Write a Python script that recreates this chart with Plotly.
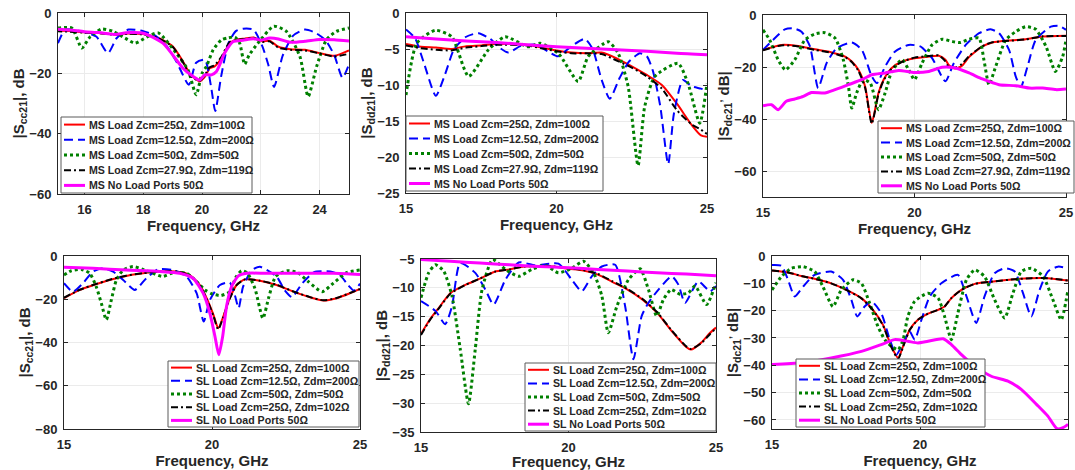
import plotly.graph_objects as go

# ---------------- DATA ----------------
series_ms = ["MS Load Zcm=25Ω, Zdm=100Ω", "MS Load Zcm=12.5Ω, Zdm=200Ω",
             "MS Load Zcm=50Ω, Zdm=50Ω", "MS Load Zcm=27.9Ω, Zdm=119Ω",
             "MS No Load Ports 50Ω"]
series_sl = ["SL Load Zcm=25Ω, Zdm=100Ω", "SL Load Zcm=12.5Ω, Zdm=200Ω",
             "SL Load Zcm=50Ω, Zdm=50Ω", "SL Load Zcm=25Ω, Zdm=102Ω",
             "SL No Load Ports 50Ω"]

# Panel 1: MS |Scc21|
p1_red_f = [15, 15.5, 16, 16.5, 17, 17.5, 18, 18.5, 19, 19.35, 19.6, 19.92, 20.1, 20.26, 20.43, 20.66, 20.94, 21.2, 21.45, 21.75, 22.05, 22.3, 22.6, 23, 23.5, 24, 24.5, 25]
p1_red_db = [-5.8, -6, -6.4, -6.6, -7, -6.8, -7, -8.2, -11, -16, -20.3, -22.7, -21.1, -18.3, -17.7, -15, -10, -8.8, -8.5, -8.1, -9.4, -9.2, -11.2, -12, -12.2, -13.3, -14.2, -12.4]
p1_blk_db = [-6, -6.2, -6.5, -6.7, -7.2, -6.9, -7.1, -8.3, -11.2, -16.3, -20.8, -22.5, -20.5, -18, -17.3, -14.5, -9.6, -8.9, -8.6, -8.2, -9.6, -9.4, -11.5, -12.2, -12.4, -13.4, -14.4, -13.5]
p1_mag_f = [15, 15.5, 16, 16.5, 17, 17.5, 18, 18.67, 19.35, 19.62, 19.92, 20.09, 20.32, 20.49, 20.77, 21.05, 21.4, 21.75, 22, 22.3, 22.6, 23, 23.5, 24, 24.5, 25]
p1_mag_db = [-5.3, -5.6, -6.2, -6.5, -7.1, -6.5, -6.7, -10, -18.3, -20.5, -22.2, -20.5, -20.5, -19.4, -13.3, -9.5, -9, -8.5, -9, -8.3, -8.6, -9.7, -9.4, -8.8, -8.9, -9.3]
p1_blu_f = [15.1, 15.35, 15.85, 16.4, 16.8, 17.1, 17.5, 18, 18.45, 18.8, 19.15, 19.55, 19.8, 20.1, 20.3, 20.45, 20.65, 20.9, 21.15, 21.4, 21.75, 22.05, 22.25, 22.45, 22.75, 23.1, 23.5, 23.85, 24.2, 24.5, 24.78, 25]
p1_blu_db = [-10, -5.5, -6, -7.8, -13.3, -8.3, -5.5, -6, -7.8, -11, -16.5, -23.8, -16.5, -15.5, -24, -32.5, -21, -10, -6, -5.2, -5.5, -11, -17, -24.5, -14, -7.5, -5.5, -6.5, -9, -14, -21.5, -17]
p1_grn_f = [15.1, 15.57, 15.91, 16.2, 16.59, 16.98, 17.38, 17.72, 18.12, 18.51, 19.12, 19.52, 19.8, 20.0, 20.15, 20.38, 20.66, 20.9, 21.12, 21.28, 21.45, 21.6, 21.9, 22.44, 22.87, 23.33, 23.61, 23.9, 24.23, 24.57, 25]
p1_grn_db = [-5, -5, -11.6, -7.8, -5.3, -6.1, -8.3, -10, -8, -6.6, -13.3, -18.8, -27.1, -20, -17.7, -12.2, -8.9, -8.2, -8, -10, -17, -14, -10, -4.4, -6.1, -14.4, -27.7, -17.7, -8.9, -6.1, -5]

# Panel 2: MS |Sdd21|
p2_red_f = [15, 15.5, 16, 16.5, 17, 17.5, 18, 19, 19.5, 20, 20.5, 21, 21.5, 22, 22.5, 23, 23.5, 24, 24.5, 24.8, 25]
p2_red_db = [-4.3, -4.7, -4.8, -5.0, -4.6, -4.5, -4.3, -4.4, -4.8, -5.2, -5.5, -5.6, -5.5, -6.3, -7.4, -8.6, -10, -12.6, -15.6, -17, -17.2]
p2_blk_db = [-4.5, -4.9, -5.1, -5.2, -4.8, -4.6, -4.4, -4.5, -4.9, -5.3, -5.6, -5.6, -5.7, -6.6, -7.6, -8.8, -10.5, -13.5, -15.5, -16.2, -16.8]
p2_mag_f = [15, 16, 17, 18, 19, 20, 21, 22, 23, 24, 25]
p2_mag_db = [-3.3, -3.6, -3.9, -4.1, -4.4, -4.7, -4.9, -5.1, -5.3, -5.6, -5.8]
p2_blu_f = [15, 15.3, 15.6, 15.99, 16.3, 16.6, 17, 17.41, 17.8, 18.1, 18.4, 18.8, 19.3, 19.7, 20.05, 20.5, 20.94, 21.2, 21.5, 21.77, 22.1, 22.4, 22.77, 23.0, 23.2, 23.45, 23.71, 23.9, 24.2, 24.5, 24.8, 25]
p2_blu_db = [-2.3, -3.5, -7, -11.5, -8.5, -5, -3.3, -2.8, -3.6, -4.8, -5.5, -4.6, -4.4, -5.3, -6, -4.6, -3.6, -5, -9.3, -11.9, -9, -6.8, -5.6, -6, -8, -13, -21, -14, -9.3, -10.2, -10.5, -10.8]
p2_grn_f = [15, 15.36, 15.97, 16.52, 17.08, 17.74, 18.29, 19.07, 19.45, 20.06, 20.72, 21.06, 21.72, 22.05, 22.38, 22.71, 22.93, 23.27, 24.04, 24.37, 24.76, 25]
p2_grn_db = [-11.4, -4.2, -2.4, -3.3, -8.8, -5.1, -3.3, -4.7, -4.2, -5.6, -9.5, -6, -4, -5.6, -10.2, -21.2, -13, -8.8, -7, -9.8, -15.3, -9.8]

# Panel 3: MS |Sdc21|
p3_red_f = [15, 15.6, 16.16, 16.71, 17.27, 17.71, 17.93, 18.15, 18.37, 18.59, 18.81, 18.98, 19.25, 19.59, 20, 20.47, 20.8, 21.02, 21.13, 21.35, 21.57, 21.8, 22.24, 22.57, 23.12, 23.67, 24.23, 25]
p3_red_db = [-13.4, -11.5, -11.9, -13.2, -14.4, -16, -17.9, -21.1, -27.5, -41.5, -30, -24.9, -20.4, -17.9, -16.6, -16, -15.7, -17.2, -19.2, -20.6, -19.5, -16.2, -12.1, -10.6, -9.8, -9.3, -8.3, -8]
p3_blk_db = [-13.6, -11.7, -12.1, -13.4, -14.6, -16.2, -18.1, -21.5, -28, -41.8, -30.5, -25.2, -20.6, -18, -16.4, -15.8, -15.5, -17.8, -20, -20.2, -18.8, -15.8, -12, -10.5, -9.9, -9.4, -8.2, -8.1]
p3_mag_f = [15, 15.28, 15.5, 15.77, 16.05, 16.33, 16.6, 17.04, 17.38, 17.82, 18.26, 18.59, 19.03, 19.48, 20, 20.47, 20.91, 21.35, 21.8, 22.24, 22.79, 23.34, 23.78, 24.23, 24.67, 25]
p3_mag_db = [-34.9, -34.5, -36.4, -33.2, -32.3, -31.3, -29.8, -30, -28.7, -26.8, -24.9, -23, -22.3, -21.3, -22.1, -21.7, -20.1, -20.4, -22.3, -24.6, -26.8, -27.2, -28.1, -28.1, -28.7, -28.5]
p3_blu_f = [15, 15.33, 15.72, 15.99, 16.27, 16.55, 16.82, 17.1, 17.43, 17.93, 18.26, 18.59, 18.76, 19.03, 19.36, 19.81, 20.19, 20.58, 21.02, 21.3, 21.69, 22.13, 22.51, 22.79, 23.12, 23.34, 23.51, 23.73, 24, 24.5, 24.78, 25]
p3_blu_db = [-13.4, -9.6, -5.5, -5.1, -6.4, -12.1, -28.1, -18.5, -12.8, -10.6, -13.4, -23.6, -26.2, -19.8, -14, -11.5, -12.1, -16.6, -25.5, -18.5, -11.5, -7, -5.5, -7, -13.4, -23.6, -27.7, -19.8, -9.6, -4.5, -4.2, -5.7]
p3_grn_f = [15, 15.22, 15.5, 15.74, 16.05, 16.38, 16.71, 17.04, 17.38, 17.65, 17.82, 17.93, 18.09, 18.31, 18.54, 18.81, 19.03, 19.25, 19.59, 19.81, 20, 20.25, 20.58, 20.91, 21.24, 21.52, 21.8, 22.13, 22.29, 22.46, 22.68, 23.01, 23.34, 23.67, 24, 24.34, 24.65, 24.89, 25]
p3_grn_db = [-5.7, -9.6, -17.2, -21.1, -17.2, -9.6, -7.3, -6.8, -8.9, -17.2, -27.5, -35.8, -30, -24.9, -26.2, -36.4, -30, -21.7, -17.2, -21.1, -24.9, -18.5, -11.5, -9.3, -10.2, -10.6, -9.3, -8.9, -17.2, -26.8, -19.8, -9.6, -6.4, -4.5, -5.5, -12.1, -21.7, -16, -9.6]

# Panel 4: SL |Scc21|
p4_red_f = [15, 15.53, 16, 16.54, 17.1, 17.67, 18.24, 18.8, 19.25, 19.59, 19.82, 20.05, 20.21, 20.38, 20.6, 20.83, 21.11, 21.62, 22.18, 22.75, 23.31, 23.76, 24.21, 24.66, 25]
p4_red_db = [-19.5, -15.7, -13.4, -11.1, -9.2, -8, -7.2, -7.2, -8.8, -13.4, -19.5, -27.2, -33.4, -28, -19.5, -13.4, -10.8, -11.4, -13.4, -16.5, -19.1, -20.6, -19.5, -17.2, -15.2]
p4_blk_db = [-19.3, -15.6, -13.3, -11, -9.1, -7.9, -7.2, -7.2, -8.9, -13.6, -19.8, -27.8, -34, -28.3, -19.7, -13.5, -10.8, -11.4, -13.3, -16.4, -19, -20.5, -19.4, -17.1, -15.3]
p4_mag_f = [15, 15.98, 17.1, 18.24, 18.91, 19.36, 19.7, 19.93, 20.1, 20.23, 20.36, 20.49, 20.66, 20.89, 21.17, 21.84, 22.97, 24.1, 25]
p4_mag_db = [-5.2, -5.7, -6.5, -7.2, -8, -10.3, -17.2, -26.5, -37.2, -45.7, -37.2, -23.4, -14.2, -9.2, -8, -8, -8, -8, -8.5]
p4_blu_f = [15, 15.3, 15.64, 15.98, 16.32, 16.66, 17, 17.39, 17.78, 18.18, 18.69, 19.14, 19.48, 19.72, 19.93, 20.27, 20.6, 20.77, 20.9, 21.05, 21.35, 21.62, 22.18, 22.45, 22.7, 23.05, 23.45, 23.99, 24.32, 24.6, 24.8, 25]
p4_blu_db = [-12.6, -16.5, -12.6, -7.2, -5.7, -7.2, -11.1, -15.7, -10.3, -6.2, -6.5, -9.5, -17.2, -30.3, -20.3, -13.4, -12.3, -18, -24.1, -14.2, -6.5, -5, -9.5, -15.7, -19, -12.6, -7.5, -7.2, -8.8, -13.5, -16, -12.8]
p4_grn_f = [15, 15.25, 15.59, 15.87, 16.09, 16.26, 16.43, 16.6, 16.77, 17, 17.33, 17.67, 18.01, 18.33, 18.69, 19.14, 19.48, 19.76, 20, 20.3, 20.6, 20.8, 21.0, 21.2, 21.45, 21.72, 21.92, 22.15, 22.55, 22.9, 23.25, 23.72, 24.1, 24.55, 25]
p4_grn_db = [-8.8, -6.8, -6.2, -8, -14.2, -21.8, -29.5, -20.3, -11.1, -6.5, -4.9, -6.2, -8, -9.5, -7.7, -8, -11.8, -15.7, -17.5, -18.3, -16.5, -10, -6.8, -8, -15, -28.8, -19, -9.5, -6.8, -7.7, -11.8, -16.5, -12.6, -7.7, -6.5]

# Panel 5: SL |Sdd21|
p5_red_f = [15, 15.3, 15.6, 16, 16.5, 17, 17.5, 18, 18.5, 19, 19.5, 20, 20.5, 21, 21.5, 22, 22.5, 23, 23.5, 24, 24.15, 24.5, 24.8, 25]
p5_red_db = [-18, -15.5, -13.5, -10.9, -9.5, -8.4, -7.2, -6.8, -6.3, -6.2, -6.3, -6.7, -7, -7.7, -9, -10.3, -12, -14.3, -17.5, -20.3, -20.7, -19.5, -17.8, -16.9]
p5_blk_db = [-18.2, -15.6, -13.6, -11, -9.5, -8.4, -7.2, -6.8, -6.3, -6.2, -6.3, -6.6, -6.9, -7.6, -8.9, -10.2, -11.9, -14.2, -17.4, -20.2, -20.6, -19.6, -18, -17]
p5_mag_f = [15, 16, 17, 18, 19, 20, 21, 22, 23, 24, 25]
p5_mag_db = [-5.1, -5.4, -5.7, -6, -6.3, -6.5, -6.8, -7.1, -7.4, -7.6, -7.9]
p5_blu_f = [15, 15.49, 15.82, 16.05, 16.33, 16.84, 17.18, 17.46, 17.86, 18.31, 18.87, 19.66, 20.11, 20.45, 20.79, 21.13, 21.58, 21.92, 22.2, 22.48, 22.71, 23.05, 23.5, 23.72, 23.95, 24.4, 24.8, 25]
p5_blu_db = [-12.3, -14, -16.3, -13.2, -5.7, -7.4, -10.3, -12.9, -8.6, -5.6, -6.1, -5.8, -8.6, -10.6, -8, -6.3, -6, -13.2, -22.4, -14.9, -12.6, -10.3, -8, -9.4, -12.6, -8.9, -10.6, -9.7]
p5_grn_f = [15, 15.26, 15.49, 15.77, 16.05, 16.33, 16.61, 16.84, 17.07, 17.43, 17.86, 18.31, 18.76, 19.21, 19.66, 20.11, 20.51, 20.85, 21.13, 21.35, 21.64, 22.03, 22.43, 22.71, 22.99, 23.22, 23.48, 23.78, 24.06, 24.29, 24.68, 25]
p5_grn_db = [-11.7, -7.4, -6, -7.1, -11.4, -20.6, -30.1, -20.6, -10.3, -5.1, -6.8, -8, -6.8, -6.1, -7.4, -6.6, -5.4, -7.4, -11.4, -17.8, -13.2, -8.6, -6.7, -10.3, -14.9, -12, -10.3, -11.1, -10.9, -9.7, -12.9, -9.1]

# Panel 6: SL |Sdc21|
p6_red_f = [15, 15.54, 15.99, 16.5, 17, 17.51, 18.02, 18.41, 18.75, 19.03, 19.26, 19.43, 19.65, 19.93, 20.27, 20.61, 20.83, 21.06, 21.4, 21.85, 22.41, 23.2, 23.76, 24.32, 25]
p6_red_db = [-5.3, -6, -7.3, -8.5, -10, -12.4, -15.4, -19.7, -25.2, -33, -37.3, -33, -27, -23.3, -21.1, -19.7, -18.5, -15.4, -12.4, -10.2, -9.4, -8.5, -8.1, -8.1, -9]
p6_blk_db = [-5.3, -6, -7.3, -8.5, -10, -12.4, -15.5, -19.8, -25.4, -33.3, -37.6, -33.2, -27.1, -23.3, -21.1, -19.7, -18.5, -15.4, -12.4, -10.2, -9.4, -8.5, -8.1, -8.1, -9]
p6_mag_f = [15, 15.99, 17, 18.02, 18.69, 19.14, 19.59, 19.93, 20.27, 20.78, 21.06, 21.4, 21.85, 22.41, 22.97, 23.42, 23.99, 24.32, 24.63, 24.83, 25]
p6_mag_db = [-39.7, -39.1, -37.3, -34.9, -32.4, -30.6, -31.2, -31.8, -31.2, -30.3, -32.4, -36.1, -40.3, -44, -45.8, -48.8, -54.9, -58.6, -63.2, -62.8, -61.6]
p6_blu_f = [15, 15.32, 15.54, 15.77, 16.05, 16.44, 17, 17.4, 17.68, 17.88, 18.13, 18.36, 18.69, 18.98, 19.2, 19.43, 19.65, 19.82, 20.05, 20.33, 20.72, 21.28, 21.57, 21.9, 22.18, 22.52, 22.86, 23.2, 23.48, 23.76, 24.04, 24.32, 24.66, 25]
p6_blu_db = [-3.3, -3.6, -8.7, -14.8, -11.2, -6.9, -5.7, -8.7, -16, -22.1, -18.5, -16.6, -20.9, -30.6, -36.1, -31.8, -27.6, -30.6, -23.3, -14.8, -10, -6.9, -14.8, -24.5, -14.8, -6.3, -4.5, -5.7, -13.6, -22.1, -12.4, -5.7, -3.9, -4.5]
p6_grn_f = [15, 15.32, 15.65, 16.05, 16.44, 16.72, 17.06, 17.34, 17.74, 18.02, 18.3, 18.58, 18.81, 19.03, 19.26, 19.43, 19.59, 19.82, 20.27, 20.61, 20.83, 21.06, 21.28, 21.57, 21.85, 22.18, 22.52, 22.86, 23.14, 23.42, 23.76, 24.16, 24.49, 24.77, 25]
p6_grn_db = [-12.4, -7.5, -4.5, -3.9, -5.7, -11.2, -18.5, -12.4, -8.7, -10, -17.3, -25.8, -30.6, -33, -34.3, -30.6, -22.1, -16.6, -13.6, -15.4, -22.1, -30.6, -20.9, -8.7, -5.1, -7.5, -16, -22.7, -13.6, -5.7, -4.5, -7.5, -16, -23.3, -12.4]

# tick values per panel
p1_yticks = [0, -20, -40, -60]
p2_yticks = [0, -5, -10, -15, -20, -25]
p3_yticks = [0, -20, -40, -60]
p4_yticks = [0, -20, -40, -60, -80]
p5_yticks = [-5, -10, -15, -20, -25, -30, -35]
p6_yticks = [0, -10, -20, -30, -40, -50, -60]
p1_xticks = [16, 18, 20, 22, 24]
x_ticks = [15, 20, 25]

# ---------------- STYLE / LAYOUT ----------------
W, H = 1075, 470
FONT = "Liberation Sans"
TXT = "#262626"

styles = [
    dict(color="#FF0000", width=2, dash="solid"),
    dict(color="#0000FF", width=2, dash="9px,5px"),
    dict(color="#008000", width=3, dash="3px,3px"),
    dict(color="#000000", width=2, dash="7px,3px,2px,3px"),
    dict(color="#FF00FF", width=3, dash="solid"),
]

panels = [
    dict(box=(58, 349, 13, 194), xr=[15.1, 25], yr=[-60, 0], xt=p1_xticks, yt=p1_yticks,
         ytitle="|S<sub>cc21</sub>|, dB", names=series_ms,
         data=[(p1_red_f, p1_red_db), (p1_blu_f, p1_blu_db), (p1_grn_f, p1_grn_db),
               (p1_red_f, p1_blk_db), (p1_mag_f, p1_mag_db)],
         leg=(61, 252, 117, 193)),
    dict(box=(406, 707, 13, 193), xr=[15, 25], yr=[-25, 0], xt=x_ticks, yt=p2_yticks,
         ytitle="|S<sub>dd21</sub>|, dB", names=series_ms,
         data=[(p2_red_f, p2_red_db), (p2_blu_f, p2_blu_db), (p2_grn_f, p2_grn_db),
               (p2_red_f, p2_blk_db), (p2_mag_f, p2_mag_db)],
         leg=(406, 603, 116, 191)),
    dict(box=(763, 1066, 15, 197), xr=[15, 25], yr=[-70, 0], xt=x_ticks, yt=p3_yticks,
         ytitle="|S<sub>dc21</sub><sup>,</sup> dB|", names=series_ms,
         data=[(p3_red_f, p3_red_db), (p3_blu_f, p3_blu_db), (p3_grn_f, p3_grn_db),
               (p3_red_f, p3_blk_db), (p3_mag_f, p3_mag_db)],
         leg=(878, 1074, 121, 193)),
    dict(box=(64, 360, 256, 429), xr=[15, 25], yr=[-80, 0], xt=x_ticks, yt=p4_yticks,
         ytitle="|S<sub>cc21</sub>|, dB", names=series_sl,
         data=[(p4_red_f, p4_red_db), (p4_blu_f, p4_blu_db), (p4_grn_f, p4_grn_db),
               (p4_red_f, p4_blk_db), (p4_mag_f, p4_mag_db)],
         leg=(168, 359, 361, 427)),
    dict(box=(421, 716, 259, 432), xr=[15, 25], yr=[-35, -5], xt=x_ticks, yt=p5_yticks,
         ytitle="|S<sub>dd21</sub>|, dB", names=series_sl,
         data=[(p5_red_f, p5_red_db), (p5_blu_f, p5_blu_db), (p5_grn_f, p5_grn_db),
               (p5_red_f, p5_blk_db), (p5_mag_f, p5_mag_db)],
         leg=(525, 716, 363, 431)),
    dict(box=(772, 1068, 256, 429), xr=[15, 25], yr=[-63.3, 0], xt=x_ticks, yt=p6_yticks,
         ytitle="|S<sub>dc21</sub><sup>,</sup> dB|", names=series_sl,
         data=[(p6_red_f, p6_red_db), (p6_blu_f, p6_blu_db), (p6_grn_f, p6_grn_db),
               (p6_red_f, p6_blk_db), (p6_mag_f, p6_mag_db)],
         leg=(796, 985, 359, 427)),
]


def px(x):
    return x / W


def py(y):
    return 1 - y / H


fig = go.Figure()
layout = dict(template="none", width=W, height=H, margin=dict(l=0, r=0, t=0, b=0, pad=0),
              autosize=False, paper_bgcolor="white", plot_bgcolor="white", showlegend=False,
              font=dict(family=FONT, color=TXT))
shapes = []
annotations = []

for i, p in enumerate(panels):
    n = "" if i == 0 else str(i + 1)
    l, r, t, b = p["box"]
    axcommon = dict(showline=True, linecolor=TXT, linewidth=1, mirror="ticks",
                    ticks="inside", ticklen=4, tickcolor=TXT, showgrid=True,
                    gridcolor="#ebebeb", gridwidth=1, zeroline=False, automargin=False,
                    tickfont=dict(family=FONT, size=13, color=TXT, weight="bold"))
    layout["xaxis" + n] = dict(domain=[px(l), px(r)], range=p["xr"], tickvals=p["xt"],
                               anchor="y" + n, ticklabelstandoff=3,
                               title=dict(text="<b>Frequency, GHz</b>", standoff=4,
                                          font=dict(family=FONT, size=15, color=TXT)),
                               **axcommon)
    layout["yaxis" + n] = dict(domain=[py(b), py(t)], range=p["yr"], tickvals=p["yt"],
                               anchor="x" + n, ticklabelstandoff=3,
                               title=dict(text="<b>" + p["ytitle"] + "</b>", standoff=1,
                                          font=dict(family=FONT, size=15, color=TXT)),
                               **axcommon)
    for k, (f, db) in enumerate(p["data"]):
        st = styles[k]
        fig.add_trace(go.Scatter(x=f, y=db, mode="lines", name=p["names"][k],
                                 xaxis="x" + n, yaxis="y" + n,
                                 line=dict(color=st["color"], width=st["width"],
                                           dash=st["dash"], shape="spline", smoothing=0.6)))
    # legend box, drawn in the MATLAB style
    x0, x1, y0, y1 = p["leg"]
    shapes.append(dict(type="rect", xref="paper", yref="paper",
                       x0=px(x0), x1=px(x1), y0=py(y1), y1=py(y0),
                       fillcolor="white", line=dict(color="#5a5a5a", width=1), layer="above"))
    rowh = (y1 - y0) / 5
    for k, name in enumerate(p["names"]):
        yc = y0 + rowh * (k + 0.5)
        st = styles[k]
        shapes.append(dict(type="line", xref="paper", yref="paper",
                           x0=px(x0 + 3), x1=px(x0 + 24), y0=py(yc), y1=py(yc),
                           line=dict(color=st["color"], width=st["width"], dash=st["dash"]),
                           layer="above"))
        annotations.append(dict(xref="paper", yref="paper", x=px(x0 + 26), y=py(yc),
                                xanchor="left", yanchor="middle", showarrow=False,
                                text="<b>" + name + "</b>",
                                font=dict(family=FONT, size=10.6, color=TXT)))

layout["shapes"] = shapes
layout["annotations"] = annotations
fig.update_layout(**layout)
fig.write_html("out.html", config={"displayModeBar": False},
               post_script="document.body.style.margin='0';document.body.style.overflow='hidden';")
